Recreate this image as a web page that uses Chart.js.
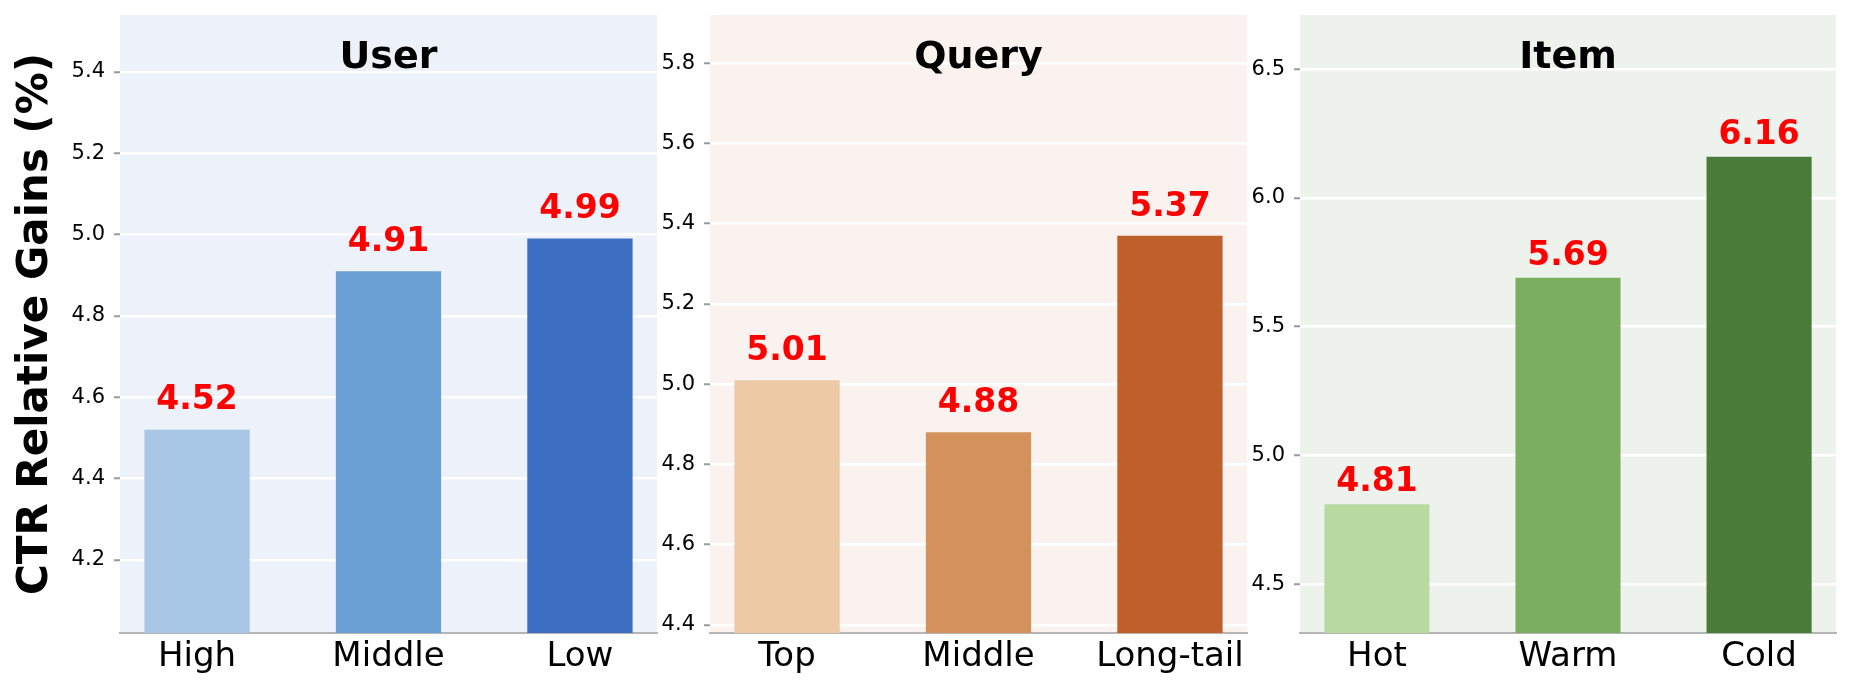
<!DOCTYPE html>
<html>
<head>
<meta charset="utf-8">
<script src="https://cdn.jsdelivr.net/npm/chart.js@4/dist/chart.umd.min.js"></script>
<style>
  html, body { margin: 0; padding: 0; background: #ffffff; }
  #wrap { position: relative; width: 1851px; height: 689px; overflow: hidden; }
  .pane { position: absolute; top: 0; }
</style>
</head>
<body>
<div id="wrap">
  <canvas id="c1" class="pane" width="660" height="689" style="left:0px"></canvas>
  <canvas id="c2" class="pane" width="610" height="689" style="left:640px"></canvas>
  <canvas id="c3" class="pane" width="621" height="689" style="left:1230px"></canvas>
</div>
<script>
// ---- data ----
const userCategories = ['High', 'Middle', 'Low'];
const userValues = [4.52, 4.91, 4.99];
const userTicks = [4.2, 4.4, 4.6, 4.8, 5.0, 5.2, 5.4];
const userRange = [4.02, 5.54];

const queryCategories = ['Top', 'Middle', 'Long-tail'];
const queryValues = [5.01, 4.88, 5.37];
const queryTicks = [4.4, 4.6, 4.8, 5.0, 5.2, 5.4, 5.6, 5.8];
const queryRange = [4.38, 5.92];

const itemCategories = ['Hot', 'Warm', 'Cold'];
const itemValues = [4.81, 5.69, 6.16];
const itemTicks = [4.5, 5.0, 5.5, 6.0, 6.5];
const itemRange = [4.31, 6.71];

const panelTitles = ['User', 'Query', 'Item'];
const yAxisTitle = 'CTR Relative Gains (%)';

// ---- styles ----
const userColors = ['#a8c7e6', '#6aa0d3', '#3b6ec0'];
const queryColors = ['#edc9a6', '#d3925c', '#bf602c'];
const itemColors = ['#b8d9a0', '#7cae62', '#4a7b39'];
const panelBgs = ['#edf1fa', '#f9f2ee', '#edf3ec'];
const FONT = "'DejaVu Sans', sans-serif";

const panelPlugin = {
  id: 'panelPlugin',
  beforeDraw(chart) {
    const o = chart.options.plugins.panelPlugin;
    const a = chart.chartArea;
    const ctx = chart.ctx;
    ctx.save();
    ctx.fillStyle = o.bg;
    ctx.fillRect(a.left, a.top, a.right - a.left, a.bottom - a.top);
    ctx.restore();
  },
  afterDatasetsDraw(chart) {
    const o = chart.options.plugins.panelPlugin;
    const a = chart.chartArea;
    const ctx = chart.ctx;
    const ys = chart.scales.y;
    const meta = chart.getDatasetMeta(0);
    ctx.save();
    // value labels
    ctx.fillStyle = '#ff0000';
    ctx.font = 'bold 33px ' + FONT;
    ctx.textAlign = 'center';
    ctx.textBaseline = 'alphabetic';
    o.values.forEach((v, i) => {
      const x = meta.data[i].x;
      const y = ys.getPixelForValue(v + 0.05);
      ctx.fillText(v.toFixed(2), x, y);
    });
    // title
    ctx.fillStyle = '#000000';
    ctx.font = 'bold 38px ' + FONT;
    ctx.fillText(o.title, (a.left + a.right) / 2, 68);
    // y axis title
    if (o.ylabel) {
      ctx.save();
      ctx.translate(47, (a.top + a.bottom) / 2);
      ctx.rotate(-Math.PI / 2);
      ctx.font = 'bold 42px ' + FONT;
      ctx.textAlign = 'center';
      ctx.textBaseline = 'alphabetic';
      ctx.fillText(o.ylabel, 0, 0);
      ctx.restore();
    }
    ctx.restore();
  }
};

function makeChart(id, cats, vals, ticks, range, colors, bg, title, yw, padRight, ylabel) {
  const ctx = document.getElementById(id).getContext('2d');
  return new Chart(ctx, {
    type: 'bar',
    data: {
      datasets: [{
        data: vals.map((v, i) => ({ x: i, y: v })),
        backgroundColor: colors,
        borderWidth: 0,
        categoryPercentage: 1.0,
        barPercentage: 0.55
      }]
    },
    options: {
      responsive: false,
      animation: false,
      devicePixelRatio: 1,
      layout: { padding: { top: 15, right: padRight, left: 0, bottom: 0 } },
      plugins: {
        legend: { display: false },
        tooltip: { enabled: false },
        panelPlugin: { bg: bg, title: title, values: vals, ylabel: ylabel }
      },
      scales: {
        x: {
          type: 'linear',
          offset: false,
          min: -0.4025,
          max: 2.4025,
          afterBuildTicks: (s) => { s.ticks = cats.map((c, i) => ({ value: i })); },
          afterFit: (s) => { s.height = 56; s.paddingLeft = 0; s.paddingRight = 0; },
          grid: { display: false, drawTicks: false, offset: false },
          border: { display: true, color: '#b5b5b5', width: 2 },
          ticks: {
            callback: (v) => cats[v],
            color: '#000000',
            font: { family: FONT, size: 34 },
            padding: 4,
            maxRotation: 0,
            autoSkip: false
          }
        },
        y: {
          min: range[0],
          max: range[1],
          afterBuildTicks: (s) => { s.ticks = ticks.map(v => ({ value: v })); },
          afterFit: (s) => { s.width = yw; s.paddingTop = 0; s.paddingBottom = 0; },
          grid: {
            color: '#ffffff',
            lineWidth: 2.5,
            drawTicks: true,
            tickLength: 6,
            tickColor: '#9a9a9a',
            tickWidth: 2
          },
          border: { display: false },
          ticks: {
            callback: (v) => Number(v).toFixed(1),
            color: '#000000',
            font: { family: FONT, size: 21 },
            padding: 9,
            autoSkip: false
          }
        }
      }
    },
    plugins: [panelPlugin]
  });
}

makeChart('c1', userCategories, userValues, userTicks, userRange, userColors, panelBgs[0], panelTitles[0], 120, 3, yAxisTitle);
makeChart('c2', queryCategories, queryValues, queryTicks, queryRange, queryColors, panelBgs[1], panelTitles[1], 70, 3, null);
makeChart('c3', itemCategories, itemValues, itemTicks, itemRange, itemColors, panelBgs[2], panelTitles[2], 70, 15, null);
</script>
</body>
</html>
